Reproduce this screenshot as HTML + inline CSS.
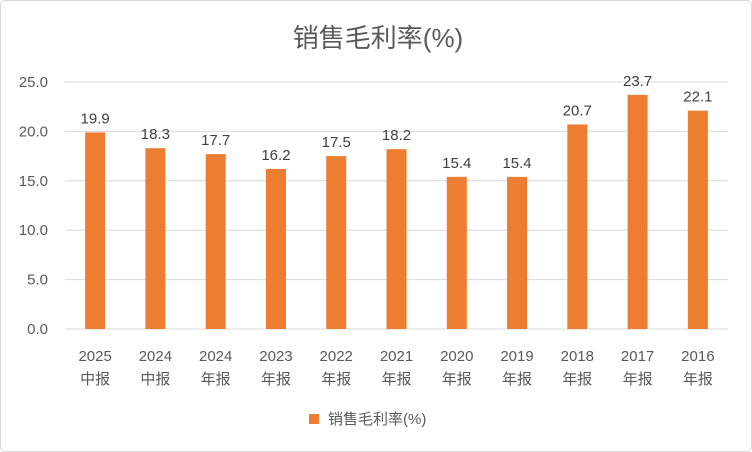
<!DOCTYPE html>
<html><head><meta charset="utf-8">
<style>
html,body{margin:0;padding:0;background:#fff;}
svg{display:block;font-family:"Liberation Sans","Noto Sans CJK SC",sans-serif;}
</style></head>
<body>
<svg id="chart" width="752" height="452" viewBox="0 0 752 452" xmlns="http://www.w3.org/2000/svg">
<rect x="0.5" y="0.5" width="751" height="451" rx="4" fill="#fff" stroke="#d9d9d9"/>
<text x="378" y="47" text-anchor="middle" font-size="26" fill="#595959">销售毛利率(%)</text>
<g id="grid"></g>
<g id="bars"></g>
<g id="labels"></g>
<g>
<rect x="309" y="414" width="10" height="10" fill="#ED7D31"/>
<text x="328" y="424" font-size="15" fill="#595959">销售毛利率(%)</text>
</g>
</svg>
<script>
const categoriesTop = ["2025","2024","2024","2023","2022","2021","2020","2019","2018","2017","2016"];
const categoriesBottom = ["中报","中报","年报","年报","年报","年报","年报","年报","年报","年报","年报"];
const values = [19.9,18.3,17.7,16.2,17.5,18.2,15.4,15.4,20.7,23.7,22.1];
const yTicks = [0,5,10,15,20,25];

const NS="http://www.w3.org/2000/svg";
const x0=65,x1=728,yBase=329,yTop=82,yMax=25;
const step=(x1-x0)/values.length;
const barW=20;
function y(v){return yBase-(v/yMax)*(yBase-yTop);}
function xc(i){return x0+step*(i+0.5);}
function mk(tag,attrs,parent){const e=document.createElementNS(NS,tag);for(const k in attrs)e.setAttribute(k,attrs[k]);parent.appendChild(e);return e;}
const grid=document.getElementById('grid'),bars=document.getElementById('bars'),labels=document.getElementById('labels');
yTicks.forEach(t=>{
  const l=mk('line',{x1:x0,x2:x1,y1:y(t),y2:y(t),stroke:'#d9d9d9','stroke-width':1},grid);
  
  
  const tx=mk('text',{x:48,y:y(t)+5,'text-anchor':'end','font-size':15,fill:'#595959'},grid);
  tx.textContent=t.toFixed(1);
  
  
});
values.forEach((v,i)=>{
  const r=mk('rect',{x:xc(i)-barW/2,y:y(v),width:barW,height:yBase-y(v),fill:'#ED7D31'},bars);
  
  
  const t=mk('text',{x:xc(i),y:y(v)-9,'text-anchor':'middle','font-size':15,fill:'#404040'},labels);
  t.textContent=v.toFixed(1);
  
  
  const a=mk('text',{x:xc(i),y:361,'text-anchor':'middle','font-size':15,fill:'#595959'},labels);
  a.textContent=categoriesTop[i];
  
  
  const b=mk('text',{x:xc(i),y:384,'text-anchor':'middle','font-size':15,fill:'#595959'},labels);
  b.textContent=categoriesBottom[i];
  
  
});
</script>
</body></html>
